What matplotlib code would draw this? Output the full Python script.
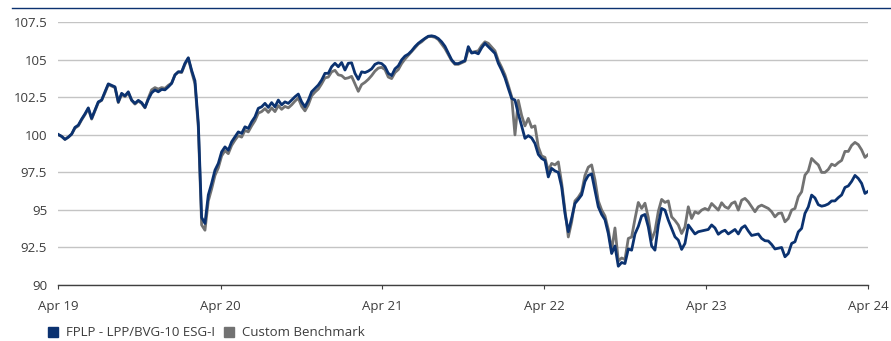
import numpy as np
import pandas as pd
import matplotlib
matplotlib.use("Agg")
import matplotlib.pyplot as plt
import matplotlib.dates as mdates
from matplotlib.lines import Line2D

plt.rcParams['font.family'] = ['Open Sans', 'DejaVu Sans']

# indexed performance, roughly weekly, Apr 2019 - Apr 2024
fund = [
    100.03, 99.9, 99.7, 99.85, 100.05, 100.5, 100.65, 101.05, 101.4, 101.8,
    101.1, 101.65, 102.2, 102.32, 102.87, 103.4, 103.3, 103.2, 102.2, 102.77,
    102.6, 102.87, 102.32, 102.1, 102.3, 102.15, 101.83, 102.37, 102.8, 102.99,
    102.87, 103.03, 103.0, 103.2, 103.43, 103.99, 104.2, 104.2, 104.77, 105.14,
    104.3, 103.6, 100.8, 94.5, 94.1, 96.0, 96.77, 97.65, 98.1, 98.87,
    99.2, 98.98, 99.54, 99.87, 100.2, 100.1, 100.54, 100.43, 100.87, 101.2,
    101.77, 101.87, 102.1, 101.83, 102.15, 101.87, 102.32, 102.0, 102.2, 102.1,
    102.32, 102.54, 102.72, 102.2, 101.87, 102.3, 102.87, 103.1, 103.32, 103.65,
    104.1, 104.1, 104.54, 104.77, 104.54, 104.82, 104.32, 104.77, 104.8, 104.1,
    103.7, 104.2, 104.15, 104.25, 104.4, 104.7, 104.8, 104.75, 104.55, 104.1,
    103.95, 104.4, 104.6, 105.0, 105.25, 105.38, 105.6, 105.88, 106.1, 106.27,
    106.43, 106.57, 106.6, 106.55, 106.42, 106.2, 105.9, 105.45, 105.0, 104.75,
    104.75, 104.85, 104.95, 105.88, 105.45, 105.5, 105.4, 105.8, 106.1, 105.88,
    105.65, 105.43, 104.77, 104.32, 103.8, 103.1, 102.43, 102.32, 101.4, 100.6,
    99.77, 99.95, 99.8, 99.43, 98.7, 98.43, 98.3, 97.2, 97.77, 97.6,
    97.5, 96.54, 94.77, 93.55, 94.45, 95.43, 95.7, 96.0, 96.9, 97.3,
    97.4, 96.3, 95.21, 94.7, 94.35, 93.43, 92.1, 92.6, 91.25, 91.5,
    91.43, 92.4, 92.32, 93.4, 93.9, 94.6, 94.7, 93.87, 92.6, 92.32,
    94.0, 95.1, 94.99, 94.32, 93.77, 93.21, 92.99, 92.37, 92.77, 94.0,
    93.7, 93.4, 93.55, 93.6, 93.65, 93.7, 94.0, 93.8, 93.38, 93.55,
    93.65, 93.4, 93.55, 93.7, 93.4, 93.8, 93.95, 93.6, 93.3, 93.35,
    93.4, 93.1, 92.95, 92.93, 92.7, 92.4, 92.45, 92.5, 91.88, 92.1,
    92.77, 92.88, 93.54, 93.77, 94.77, 95.2, 95.99, 95.8, 95.35, 95.25,
    95.3, 95.4, 95.6, 95.6, 95.82, 96.0, 96.5, 96.6, 96.9, 97.3,
    97.1, 96.77, 96.1, 96.25,
]

benchmark = [
    100.0, 99.9, 99.7, 99.85, 100.05, 100.45, 100.6, 101.0, 101.35, 101.75,
    101.05, 101.6, 102.15, 102.3, 102.8, 103.35, 103.25, 103.15, 102.15, 102.7,
    102.55, 102.8, 102.3, 102.05, 102.25, 102.1, 101.8, 102.45, 103.0, 103.15,
    103.05, 103.15, 103.1, 103.3, 103.45, 104.0, 104.2, 104.15, 104.7, 105.1,
    104.2, 103.4, 100.5, 94.0, 93.65, 95.6, 96.4, 97.3, 97.8, 98.6,
    98.95, 98.75, 99.3, 99.65, 99.95, 99.85, 100.3, 100.2, 100.6, 100.95,
    101.45, 101.55, 101.75, 101.5, 101.8, 101.55, 101.95, 101.7, 101.9, 101.8,
    102.0, 102.25, 102.45, 101.9, 101.6, 102.0, 102.6, 102.85, 103.05, 103.4,
    103.8, 103.85, 104.2, 104.3, 104.0, 103.95, 103.75, 103.8, 103.9, 103.4,
    102.9, 103.35, 103.5, 103.7, 103.95, 104.25, 104.45, 104.5, 104.35, 103.85,
    103.75, 104.15, 104.35, 104.75, 105.05, 105.3, 105.55, 105.8, 106.05, 106.2,
    106.4, 106.55, 106.55, 106.5, 106.35, 106.05, 105.75, 105.35, 104.95, 104.7,
    104.7, 104.8, 104.9, 105.7, 105.5, 105.55, 105.6, 105.95, 106.2, 106.1,
    105.85, 105.6, 104.95, 104.5, 104.0, 103.3, 102.55, 100.0, 102.3, 101.3,
    100.6, 101.1, 100.5, 100.6, 99.2, 98.6, 98.5, 97.6, 98.1, 98.0,
    98.2, 96.8, 95.0, 93.2, 94.2, 95.6, 95.85, 96.2, 97.3, 97.85,
    98.0, 97.0, 95.6, 95.0, 94.6, 93.7, 92.3, 93.8, 91.6, 91.8,
    91.7, 93.1, 93.2, 94.4, 95.5, 95.1, 95.45, 94.5, 93.0, 93.6,
    94.9, 95.7, 95.5, 95.6, 94.54, 94.3, 94.0, 93.43, 93.87, 95.21,
    94.43, 94.88, 94.77, 94.99, 95.1, 94.99, 95.43, 95.21, 94.99, 95.48,
    95.21, 95.1, 95.43, 95.54, 94.99, 95.65, 95.77, 95.54, 95.21, 94.88,
    95.21, 95.32, 95.21, 95.1, 94.88, 94.54, 94.77, 94.8, 94.21, 94.43,
    94.99, 95.1, 95.88, 96.21, 97.32, 97.6, 98.43, 98.2, 98.0, 97.5,
    97.5, 97.7, 98.05, 97.95, 98.15, 98.3, 98.9, 98.9, 99.3, 99.5,
    99.35, 99.0, 98.5, 98.7,
]

series_names = ['FPLP - LPP/BVG-10 ESG-I', 'Custom Benchmark']
y_ticks = [90, 92.5, 95, 97.5, 100, 102.5, 105, 107.5]
tick_years = ['2019', '2020', '2021', '2022', '2023', '2024']

dates = pd.date_range('2019-04-01', '2024-04-01', periods=len(fund))

navy = '#0b3270'
grey = '#727272'
text_col = '#3c3c3c'

fig = plt.figure(figsize=(8.91, 3.41), dpi=100)
ax = fig.add_axes([58.3 / 891, 1 - 285 / 341, (868.3 - 58.3) / 891, (285 - 22.3) / 341])

ax.plot(dates, benchmark, color=grey, lw=2.0, zorder=3)
ax.plot(dates, fund, color=navy, lw=2.0, zorder=4)

ax.set_ylim(90, 107.5)
ax.set_xlim(dates[0], dates[-1])
ax.set_yticks(y_ticks)
ax.set_yticklabels([f'{v:g}' for v in y_ticks])
ax.set_xticks(pd.to_datetime([y + '-04-01' for y in tick_years]))
ax.xaxis.set_major_formatter(mdates.DateFormatter('%b %y'))

ax.grid(axis='y', color='#c4c4c4', lw=1.0, zorder=0)
ax.set_axisbelow(True)
for s in ['top', 'right', 'left']:
    ax.spines[s].set_visible(False)
ax.spines['bottom'].set_color('#404040')
ax.spines['bottom'].set_linewidth(1.0)
ax.spines['bottom'].set_zorder(5)

ax.tick_params(axis='y', length=0, pad=8, labelsize=9.5, labelcolor=text_col)
ax.tick_params(axis='x', length=3, width=0.8, color='#404040', pad=8,
               labelsize=9.5, labelcolor=text_col)

# thin navy rule across the top
fig.add_artist(Line2D([12 / 891, 1.0], [1 - 8 / 341, 1 - 8 / 341],
                      transform=fig.transFigure, color=navy, lw=1.0))

handles = [Line2D([], [], marker='s', ls='none', color=navy, markersize=7),
           Line2D([], [], marker='s', ls='none', color=grey, markersize=7)]
fig.legend(handles, series_names, loc='center left',
           bbox_to_anchor=(48 / 891, 1 - 333 / 341), ncol=2, frameon=False,
           handlelength=0.8, handletextpad=0.6, columnspacing=0.6,
           borderaxespad=0, borderpad=0, fontsize=9.5, labelcolor=text_col)

fig.savefig('out.png', dpi=100)
